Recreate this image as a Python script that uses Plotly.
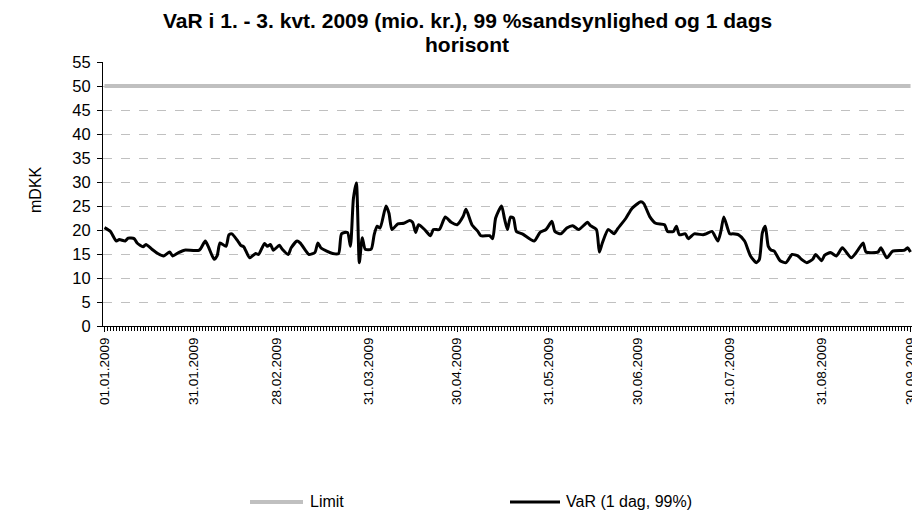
import plotly.graph_objects as go

dates = [
    "2009-01-01", "2009-01-03", "2009-01-05", "2009-01-06", "2009-01-08", "2009-01-09",
    "2009-01-11", "2009-01-12", "2009-01-14", "2009-01-15", "2009-01-17", "2009-01-19",
    "2009-01-21", "2009-01-23", "2009-01-24", "2009-01-26", "2009-01-28", "2009-02-02",
    "2009-02-04", "2009-02-05", "2009-02-07", "2009-02-08", "2009-02-09", "2009-02-11",
    "2009-02-12", "2009-02-13", "2009-02-15", "2009-02-16", "2009-02-17", "2009-02-19",
    "2009-02-21", "2009-02-22", "2009-02-24", "2009-02-25", "2009-02-26", "2009-02-27",
    "2009-03-01", "2009-03-02", "2009-03-04", "2009-03-05", "2009-03-07", "2009-03-08",
    "2009-03-10", "2009-03-11", "2009-03-13", "2009-03-14", "2009-03-15", "2009-03-17",
    "2009-03-19", "2009-03-21", "2009-03-22", "2009-03-24", "2009-03-25", "2009-03-26",
    "2009-03-27", "2009-03-28", "2009-03-29", "2009-03-30", "2009-04-01", "2009-04-02",
    "2009-04-03", "2009-04-04", "2009-04-06", "2009-04-07", "2009-04-08", "2009-04-10",
    "2009-04-12", "2009-04-14", "2009-04-15", "2009-04-16", "2009-04-17", "2009-04-19",
    "2009-04-21", "2009-04-22", "2009-04-24", "2009-04-26", "2009-04-28", "2009-04-30",
    "2009-05-02", "2009-05-03", "2009-05-05", "2009-05-07", "2009-05-08", "2009-05-11",
    "2009-05-12", "2009-05-13", "2009-05-15", "2009-05-16", "2009-05-17", "2009-05-18",
    "2009-05-19", "2009-05-20", "2009-05-22", "2009-05-26", "2009-05-28", "2009-05-30",
    "2009-06-01", "2009-06-02", "2009-06-04", "2009-06-06", "2009-06-08", "2009-06-10",
    "2009-06-13", "2009-06-14", "2009-06-16", "2009-06-17", "2009-06-18", "2009-06-20",
    "2009-06-22", "2009-06-23", "2009-06-26", "2009-06-28", "2009-07-01", "2009-07-02",
    "2009-07-04", "2009-07-06", "2009-07-09", "2009-07-10", "2009-07-12", "2009-07-13",
    "2009-07-14", "2009-07-16", "2009-07-17", "2009-07-19", "2009-07-22", "2009-07-23",
    "2009-07-25", "2009-07-27", "2009-07-28", "2009-07-29", "2009-07-31", "2009-08-01",
    "2009-08-03", "2009-08-05", "2009-08-07", "2009-08-09", "2009-08-10", "2009-08-11",
    "2009-08-12", "2009-08-13", "2009-08-14", "2009-08-15", "2009-08-17", "2009-08-19",
    "2009-08-21", "2009-08-23", "2009-08-24", "2009-08-26", "2009-08-28", "2009-08-29",
    "2009-08-31", "2009-09-01", "2009-09-03", "2009-09-05", "2009-09-07", "2009-09-10",
    "2009-09-12", "2009-09-14", "2009-09-15", "2009-09-19", "2009-09-20", "2009-09-22",
    "2009-09-24", "2009-09-28", "2009-09-29", "2009-09-30",
]

var_values = [
    20.5, 19.7, 17.7, 18.0, 17.7, 18.3,
    18.2, 17.3, 16.5, 17.0, 16.0, 15.1,
    14.6, 15.4, 14.6, 15.3, 15.8, 15.8,
    17.7, 16.6, 13.9, 14.6, 17.3, 16.6,
    19.0, 19.2, 17.7, 16.8, 16.5, 14.2,
    15.1, 14.9, 17.2, 16.6, 17.0, 15.8,
    16.8, 16.0, 14.9, 16.3, 17.7, 17.3,
    15.6, 14.9, 15.3, 17.3, 16.3, 15.6,
    15.1, 15.1, 19.2, 19.5, 16.6, 26.5,
    29.8, 13.2, 18.4, 16.0, 16.0, 19.0,
    20.8, 20.4, 25.0, 23.5, 20.1, 21.3,
    21.4, 22.0, 21.6, 19.5, 21.1, 20.1,
    18.8, 20.1, 20.1, 22.7, 21.6, 21.1,
    22.8, 24.3, 21.1, 19.7, 18.8, 18.8,
    18.2, 22.5, 25.0, 22.3, 20.1, 22.7,
    22.5, 19.7, 19.2, 17.7, 19.5, 20.1,
    21.8, 19.7, 19.2, 20.4, 20.9, 20.1,
    21.6, 20.9, 20.1, 15.4, 17.3, 20.1,
    19.2, 20.1, 22.5, 24.5, 25.9, 25.5,
    22.8, 21.4, 21.1, 19.7, 19.7, 20.8,
    19.0, 19.2, 18.2, 19.2, 19.0, 19.2,
    19.7, 17.7, 19.7, 22.7, 19.2, 19.2,
    19.0, 17.7, 14.6, 13.2, 13.9, 19.4,
    20.8, 16.6, 15.8, 15.6, 13.6, 13.2,
    14.9, 14.6, 14.0, 13.2, 13.9, 14.9,
    13.6, 14.7, 15.3, 14.6, 16.3, 14.2,
    15.6, 17.3, 15.4, 15.4, 16.3, 14.2,
    15.6, 15.8, 16.3, 15.4,
]

limit_dates = ["2009-01-01", "2009-09-30"]
limit_values = [50, 50]

tick_dates = ["2009-01-01", "2009-01-31", "2009-02-28", "2009-03-31", "2009-04-30",
              "2009-05-31", "2009-06-30", "2009-07-31", "2009-08-31", "2009-09-30"]
tick_labels = ["01.01.2009", "31.01.2009", "28.02.2009", "31.03.2009", "30.04.2009",
               "31.05.2009", "30.06.2009", "31.07.2009", "31.08.2009", "30.09.2009"]

y_ticks = list(range(0, 60, 5))

title_line1 = "VaR i 1. - 3. kvt. 2009 (mio. kr.), 99 %sandsynlighed og 1 dags"
title_line2 = "horisont"
y_title = "mDKK"
series_names = ["Limit", "VaR (1 dag, 99%)"]
series_colors = ["#c0c0c0", "#000000"]
series_widths = [4, 3]

font_family = "Liberation Sans, Arial, sans-serif"

# plot-area geometry (pixels)
L, R, T, B = 95, 16, 54, 193
W, H = 920, 511
PW = W - L - R
PH = H - T - B
BOTTOM = H - B


def py(px):
    return (BOTTOM - px) / PH


def pxx(px):
    return (px - L) / PW


fig = go.Figure()
fig.add_trace(go.Scatter(
    x=limit_dates, y=limit_values, mode="lines", name=series_names[0],
    line=dict(color=series_colors[0], width=series_widths[0]),
))
fig.add_trace(go.Scatter(
    x=dates, y=var_values, mode="lines", name=series_names[1],
    line=dict(color=series_colors[1], width=series_widths[1], shape="spline", smoothing=0.6),
))

# legend drawn at the very bottom (plotly's own legend box pushes the margins)
legend_x = [(242, 295, 300), (502, 552, 556)]
legend_y = 494
shapes = []
annotations = []
for (x0, x1, xt), name, col, wd in zip(legend_x, series_names, series_colors, series_widths):
    shapes.append(dict(type="line", xref="paper", yref="paper",
                       x0=pxx(x0), x1=pxx(x1), y0=py(legend_y), y1=py(legend_y),
                       line=dict(color=col, width=wd)))
    annotations.append(dict(text=name, xref="paper", yref="paper",
                            x=pxx(xt), y=py(legend_y), xanchor="left", yanchor="middle",
                            showarrow=False, font=dict(size=16)))

annotations += [
    dict(text="<b>" + title_line1 + "</b>", xref="paper", yref="paper",
         x=pxx(459), y=py(12.5), xanchor="center", yanchor="middle",
         showarrow=False, font=dict(size=21)),
    dict(text="<b>" + title_line2 + "</b>", xref="paper", yref="paper",
         x=pxx(459), y=py(36.5), xanchor="center", yanchor="middle",
         showarrow=False, font=dict(size=21)),
    dict(text=y_title, xref="paper", yref="paper", textangle=-90,
         x=pxx(27), y=py(182), xanchor="center", yanchor="middle",
         showarrow=False, font=dict(size=16)),
]

fig.update_layout(
    width=W, height=H,
    margin=dict(l=L, r=R, t=T, b=B),
    paper_bgcolor="white", plot_bgcolor="white",
    font=dict(family=font_family, size=15, color="black"),
    showlegend=False,
    xaxis=dict(
        type="date", automargin=False,
        range=["2008-12-31 12:00", "2009-09-30 12:00"],
        tickmode="array", tickvals=tick_dates, ticktext=tick_labels,
        tickangle=-90, tickfont=dict(size=13.5),
        ticks="outside", ticklen=5, tickcolor="black",
        showline=True, linecolor="black", linewidth=1,
        showgrid=False, zeroline=False,
        minor=dict(ticks="outside", ticklen=4, tickcolor="black", dtick=86400000, showgrid=False),
    ),
    yaxis=dict(
        range=[0, 55], tickvals=y_ticks, automargin=False,
        ticks="outside", ticklen=5, tickcolor="black", ticklabelstandoff=3,
        showline=True, linecolor="black", linewidth=1,
        showgrid=True, gridcolor="#c0c0c0", griddash="dash", gridwidth=1,
        zeroline=False, tickfont=dict(size=16.5),
    ),
    shapes=shapes,
    annotations=annotations,
)

fig.write_html("out.html")
